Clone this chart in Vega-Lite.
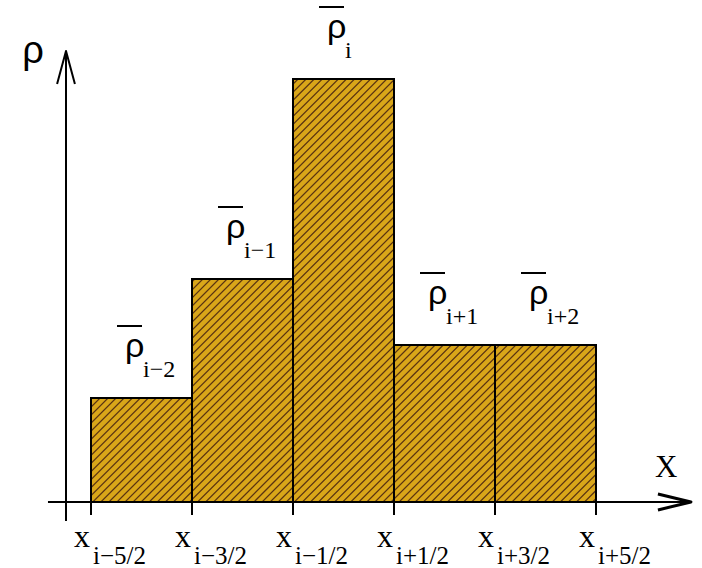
{
  "$schema": "https://vega.github.io/schema/vega-lite/v6.json",
  "width": 505,
  "height": 452,
  "autosize": {"type": "none"},
  "padding": {"left": 91, "top": 50, "right": 106, "bottom": 66},
  "background": "white",
  "config": {"view": {"stroke": null}},
  "datasets": {
    "cells": [
      {"x0": -2.5, "x1": -1.5, "rho": 1.04, "sub": "i−2"},
      {"x0": -1.5, "x1": -0.5, "rho": 2.23, "sub": "i−1"},
      {"x0": -0.5, "x1": 0.5, "rho": 4.23, "sub": "i"},
      {"x0": 0.5, "x1": 1.5, "rho": 1.57, "sub": "i+1"},
      {"x0": 1.5, "x1": 2.5, "rho": 1.57, "sub": "i+2"}
    ],
    "edges": [
      {"t": -2.5, "sub": "i−5/2"},
      {"t": -1.5, "sub": "i−3/2"},
      {"t": -0.5, "sub": "i−1/2"},
      {"t": 0.5, "sub": "i+1/2"},
      {"t": 1.5, "sub": "i+3/2"},
      {"t": 2.5, "sub": "i+5/2"}
    ],
    "one": [{}]
  },
  "layer": [
    {
      "data": {"name": "cells"},
      "mark": {"type": "rect", "fill": "#D9A619", "strokeWidth": 0},
      "encoding": {
        "x": {"field": "x0", "type": "quantitative", "scale": {"domain": [-2.5, 2.5], "nice": false, "zero": false}, "axis": null},
        "x2": {"field": "x1"},
        "y": {"field": "rho", "type": "quantitative", "scale": {"domain": [0, 4.52], "nice": false, "zero": false}, "axis": null},
        "y2": {"datum": 0}
      }
    },
    {
      "data": {"name": "one"},
      "mark": {"type": "rule", "clip": true, "stroke": "#5a3412", "strokeWidth": 720, "strokeDash": [1.25, 4.45], "strokeCap": "butt"},
      "encoding": {
        "x": {"datum": -3, "type": "quantitative"},
        "x2": {"datum": 3},
        "y": {"datum": 5.29, "type": "quantitative"},
        "y2": {"datum": -0.77}
      }
    },
    {
      "data": {"name": "cells"},
      "mark": {"type": "rect", "fill": "white", "stroke": "white", "strokeWidth": 1},
      "encoding": {
        "x": {"field": "x0", "type": "quantitative"},
        "x2": {"field": "x1"},
        "y": {"field": "rho", "type": "quantitative"},
        "y2": {"datum": 4.52}
      }
    },
    {
      "data": {"name": "cells"},
      "mark": {"type": "rect", "fillOpacity": 0, "stroke": "black", "strokeWidth": 2},
      "encoding": {
        "x": {"field": "x0", "type": "quantitative"},
        "x2": {"field": "x1"},
        "y": {"field": "rho", "type": "quantitative"},
        "y2": {"datum": 0}
      }
    },
    {
      "data": {"name": "edges"},
      "mark": {"type": "rule", "stroke": "black", "strokeWidth": 2},
      "encoding": {
        "x": {"field": "t", "type": "quantitative"},
        "y": {"datum": 0, "type": "quantitative"},
        "y2": {"datum": -0.13}
      }
    },
    {
      "data": {"name": "one"},
      "mark": {"type": "rule", "stroke": "black", "strokeWidth": 2},
      "encoding": {
        "x": {"datum": -2.926, "type": "quantitative"},
        "x2": {"datum": 3.44},
        "y": {"datum": 0, "type": "quantitative"}
      }
    },
    {
      "data": {"name": "one"},
      "mark": {"type": "rule", "stroke": "black", "strokeWidth": 2},
      "encoding": {
        "x": {"datum": -2.7475, "type": "quantitative"},
        "y": {"datum": -0.19, "type": "quantitative"},
        "y2": {"datum": 4.5}
      }
    },
    {
      "data": {"name": "one"},
      "mark": {"type": "point", "shape": "M-1,-0.24L0,0L-1,0.24", "size": 4356, "filled": false, "stroke": "black", "strokeWidth": 3, "strokeJoin": "round", "opacity": 1},
      "encoding": {
        "x": {"datum": 3.44, "type": "quantitative"},
        "y": {"datum": 0, "type": "quantitative"}
      }
    },
    {
      "data": {"name": "one"},
      "mark": {"type": "point", "shape": "M-0.27,1L0,0L0.27,1", "size": 4356, "filled": false, "stroke": "black", "strokeWidth": 2, "strokeJoin": "round", "opacity": 1},
      "encoding": {
        "x": {"datum": -2.7475, "type": "quantitative"},
        "y": {"datum": 4.51, "type": "quantitative"}
      }
    },
    {
      "data": {"name": "cells"},
      "mark": {"type": "rule", "stroke": "black", "strokeWidth": 2, "xOffset": 26, "x2Offset": 51, "yOffset": -72},
      "encoding": {
        "x": {"field": "x0", "type": "quantitative"},
        "x2": {"field": "x0"},
        "y": {"field": "rho", "type": "quantitative"}
      }
    },
    {
      "data": {"name": "cells"},
      "mark": {"type": "text", "text": "ρ", "font": "Liberation Sans", "fontSize": 34, "align": "left", "baseline": "alphabetic", "dx": 34, "dy": -41, "color": "black"},
      "encoding": {
        "x": {"field": "x0", "type": "quantitative"},
        "y": {"field": "rho", "type": "quantitative"}
      }
    },
    {
      "data": {"name": "cells"},
      "mark": {"type": "text", "font": "Liberation Serif", "fontSize": 24, "align": "left", "baseline": "alphabetic", "dx": 52, "dy": -21, "color": "black"},
      "encoding": {
        "x": {"field": "x0", "type": "quantitative"},
        "y": {"field": "rho", "type": "quantitative"},
        "text": {"field": "sub"}
      }
    },
    {
      "data": {"name": "edges"},
      "mark": {"type": "text", "text": "x", "font": "Liberation Serif", "fontSize": 32, "align": "right", "baseline": "alphabetic", "dx": -1, "dy": 45, "color": "black"},
      "encoding": {
        "x": {"field": "t", "type": "quantitative"},
        "y": {"datum": 0, "type": "quantitative"}
      }
    },
    {
      "data": {"name": "edges"},
      "mark": {"type": "text", "font": "Liberation Serif", "fontSize": 25, "align": "left", "baseline": "alphabetic", "dx": 2, "dy": 62, "color": "black"},
      "encoding": {
        "x": {"field": "t", "type": "quantitative"},
        "y": {"datum": 0, "type": "quantitative"},
        "text": {"field": "sub"}
      }
    },
    {
      "data": {"name": "one"},
      "mark": {"type": "text", "text": "ρ", "font": "Liberation Sans", "fontSize": 38, "align": "left", "baseline": "alphabetic", "color": "black"},
      "encoding": {
        "x": {"datum": -3.18, "type": "quantitative"},
        "y": {"datum": 4.39, "type": "quantitative"}
      }
    },
    {
      "data": {"name": "one"},
      "mark": {"type": "text", "text": "X", "font": "Liberation Serif", "fontSize": 31, "align": "left", "baseline": "alphabetic", "color": "black"},
      "encoding": {
        "x": {"datum": 3.084, "type": "quantitative"},
        "y": {"datum": 0.25, "type": "quantitative"}
      }
    }
  ]
}
